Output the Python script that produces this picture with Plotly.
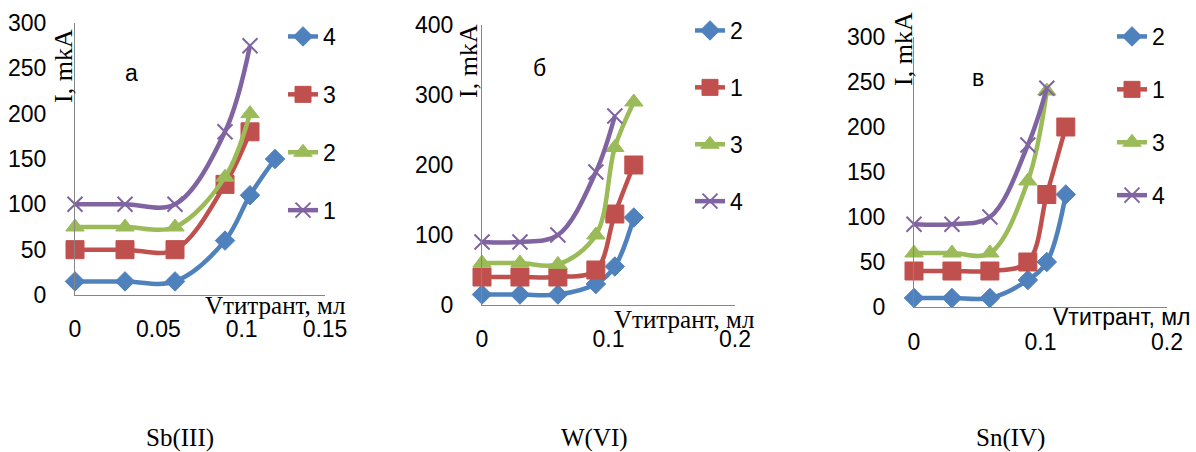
import plotly.graph_objects as go

# ---------------- data ----------------
x_vol = [0, 0.03, 0.06, 0.09, 0.105, 0.12]

# Sb(III) panel "а"
sb_names = ["4", "3", "2", "1"]
sb_4 = [15, 15, 15, 60, 110, 150]
sb_3 = [50, 50, 50, 122, 180]
sb_2 = [75, 75, 75, 130, 200]
sb_1 = [100, 100, 100, 180, 275]

# W(VI) panel "б"
w_names = ["2", "1", "3", "4"]
w_2 = [15, 15, 15, 30, 55, 125]
w_1 = [40, 40, 40, 50, 130, 200]
w_3 = [60, 60, 58, 100, 225, 290]
w_4 = [90, 90, 100, 190, 270]

# Sn(IV) panel "в"
sn_names = ["2", "1", "3", "4"]
sn_2 = [10, 10, 10, 30, 50, 125]
sn_1 = [40, 40, 40, 50, 125, 200]
sn_3 = [60, 60, 60, 140, 240]
sn_4 = [92, 92, 100, 180, 243]

panel_titles = ["Sb(III)", "W(VI)", "Sn(IV)"]
panel_letters = ["а", "б", "в"]
y_title = "I, mkA"
x_title = "Vтитрант, мл"

# ---------------- styles ----------------
W, H = 1196, 452
BLUE, RED, GREEN, PURPLE = "#4F81BD", "#C0504D", "#9BBB59", "#8064A2"
style = {
    BLUE: dict(symbol="diamond", size=15),
    RED: dict(symbol="square", size=18),
    GREEN: dict(symbol="triangle-up", size=16),
    PURPLE: dict(symbol="x-thin", size=15),
}
AX = "#868686"
SANS = "Liberation Sans"
SERIF = "Liberation Serif"


def px_x(p):
    return p / W


def px_y(p):
    return 1 - p / H


fig = go.Figure()

panels = [
    dict(series=[(sb_names[0], sb_4, BLUE), (sb_names[1], sb_3, RED),
                 (sb_names[2], sb_2, GREEN), (sb_names[3], sb_1, PURPLE)],
         xr=[0, 0.15], yr=[0, 300], dx=0.05, dy=50,
         xdom=(75, 325), ydom=(295, 23), leg=(283, 15), gap=25, xso=13),
    dict(series=[(w_names[0], w_2, BLUE), (w_names[1], w_1, RED),
                 (w_names[2], w_3, GREEN), (w_names[3], w_4, PURPLE)],
         xr=[0, 0.2], yr=[0, 400], dx=0.1, dy=100,
         xdom=(482, 735), ydom=(305, 25), leg=(690, 9), gap=24, xso=13),
    dict(series=[(sn_names[0], sn_2, BLUE), (sn_names[1], sn_1, RED),
                 (sn_names[2], sn_3, GREEN), (sn_names[3], sn_4, PURPLE)],
         xr=[0, 0.2], yr=[0, 300], dx=0.1, dy=50,
         xdom=(914, 1167), ydom=(307, 37), leg=(1112, 15), gap=20, xso=14),
]

for i, p in enumerate(panels):
    n = "" if i == 0 else str(i + 1)
    legname = "legend" + n
    for name, vals, col in p["series"]:
        st = style[col]
        mline = dict(color=col, width=2) if st["symbol"] == "x-thin" else dict(color=col, width=1)
        fig.add_trace(go.Scatter(
            x=x_vol[:len(vals)], y=vals, name=name, mode="lines+markers",
            line=dict(color=col, width=4.5, shape="spline", smoothing=1.0),
            marker=dict(symbol=st["symbol"], size=st["size"], color=col, line=mline),
            xaxis="x" + n, yaxis="y" + n, legend=legname, legendgroup=f"p{i}{name}",
            cliponaxis=False,
        ))
    fig.update_layout(**{
        "xaxis" + n: dict(
            domain=[px_x(p["xdom"][0]), px_x(p["xdom"][1])], range=p["xr"], dtick=p["dx"],
            anchor="y" + n, showline=True, linecolor=AX, linewidth=1, showgrid=False,
            zeroline=False, ticks="", ticklabelstandoff=p["xso"],
            tickfont=dict(family=SANS, size=23, color="black"),
        ),
        "yaxis" + n: dict(
            domain=[px_y(p["ydom"][0]), px_y(p["ydom"][1])], range=p["yr"], dtick=p["dy"],
            anchor="x" + n, showline=True, linecolor=AX, linewidth=1, showgrid=False,
            zeroline=False, ticks="", ticklabelstandoff=23,
            tickfont=dict(family=SANS, size=23, color="black"),
        ),
        legname: dict(
            x=px_x(p["leg"][0]), y=px_y(p["leg"][1]), xanchor="left", yanchor="top",
            font=dict(family=SANS, size=23, color="black"), bgcolor="rgba(0,0,0,0)",
            traceorder="grouped", tracegroupgap=p["gap"], itemclick=False,
        ),
    })

annotations = []
# y titles
for (cx, cy) in [(63, 66), (468, 61), (903, 49)]:
    annotations.append(dict(text=y_title, x=px_x(cx), y=px_y(cy), xref="paper", yref="paper",
                            textangle=-90, showarrow=False, xanchor="center", yanchor="middle",
                            font=dict(family=SERIF, size=26, color="black")))
# x titles
for (cx, cy, fam, sz) in [(275, 305, SERIF, 25), (684, 319, SERIF, 25), (1122, 317, SANS, 23)]:
    annotations.append(dict(text=x_title, x=px_x(cx), y=px_y(cy), xref="paper", yref="paper",
                            showarrow=False, xanchor="center", yanchor="middle",
                            font=dict(family=fam, size=sz, color="black")))
# panel letters
for letter, (cx, cy) in zip(panel_letters, [(131, 73), (539, 68), (978, 78)]):
    annotations.append(dict(text=letter, x=px_x(cx), y=px_y(cy), xref="paper", yref="paper",
                            showarrow=False, xanchor="center", yanchor="middle",
                            font=dict(family=SANS, size=23, color="black")))
# bottom labels
for t, cx in zip(panel_titles, [180, 594, 1010]):
    annotations.append(dict(text=t, x=px_x(cx), y=px_y(438), xref="paper", yref="paper",
                            showarrow=False, xanchor="center", yanchor="middle",
                            font=dict(family=SERIF, size=25, color="black")))

fig.update_layout(
    width=W, height=H, autosize=False,
    margin=dict(l=0, r=0, t=0, b=0, autoexpand=False),
    paper_bgcolor="white", plot_bgcolor="white",
    font=dict(family=SANS, size=23, color="black"),
    annotations=annotations,
)

fig.write_html("out.html")
